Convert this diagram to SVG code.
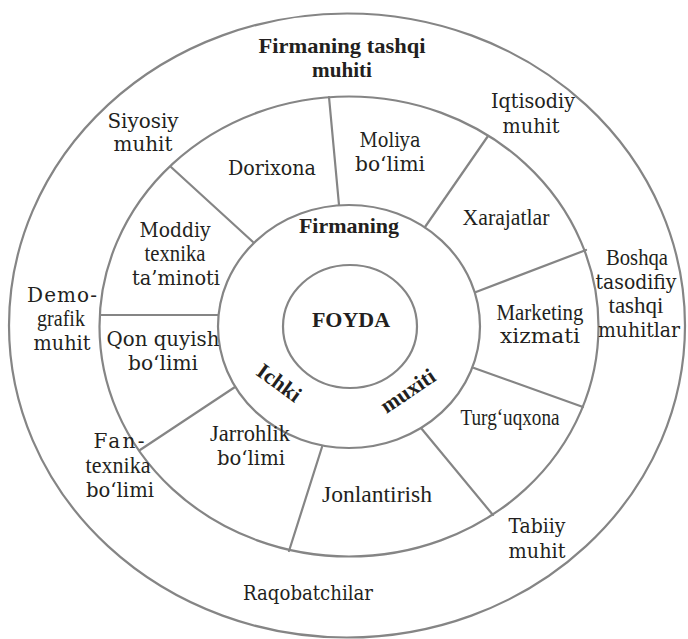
<svg xmlns="http://www.w3.org/2000/svg" width="688" height="639" viewBox="0 0 688 639">
  <style>
    .ring { fill: none; stroke: #858585; stroke-width: 2.2; }
    .div { stroke: #858585; stroke-width: 2.2; stroke-linecap: round; }
    text { fill: #231f20; text-anchor: middle; }
    .c { font-family: "DejaVu Serif", "Liberation Serif", serif; font-size: 20px; }
    .t { font-family: "Liberation Serif", "Times New Roman", serif; font-size: 22.5px; }
    .b { font-family: "Liberation Serif", "Times New Roman", serif; font-size: 22px; font-weight: bold; }
  </style>
  <rect width="688" height="639" fill="#ffffff"/>

  <!-- concentric rings -->
  <g id="rings">
    <ellipse id="outer-ring" class="ring" cx="347" cy="325.5" rx="338" ry="312"/>
    <ellipse id="middle-ring" class="ring" cx="349" cy="326.5" rx="249.5" ry="230"/>
    <ellipse id="inner-ring" class="ring" cx="349" cy="326.5" rx="131" ry="121.5"/>
    <ellipse id="core-ring" class="ring" cx="350" cy="326.5" rx="67" ry="61.5"/>
  </g>

  <!-- radial dividers between the inner and middle rings -->
  <g id="connectors">
    <line class="div" x1="339" y1="205" x2="329" y2="97"/>
    <line class="div" x1="253" y1="242" x2="171" y2="167"/>
    <line class="div" x1="218" y1="315" x2="100" y2="315"/>
    <line class="div" x1="235" y1="387" x2="140" y2="450"/>
    <line class="div" x1="322" y1="447" x2="289" y2="551"/>
    <line class="div" x1="421" y1="428" x2="493" y2="515"/>
    <line class="div" x1="474" y1="368" x2="583" y2="407"/>
    <line class="div" x1="476" y1="292" x2="586" y2="250"/>
    <line class="div" x1="425" y1="227" x2="488" y2="136"/>
  </g>

  <!-- outer ring: external environment -->
  <g id="external-title">
    <text class="b" x="342" y="53" style="font-size:21px" textLength="167" lengthAdjust="spacingAndGlyphs">Firmaning tashqi</text>
    <text class="b" x="342" y="77" style="font-size:21px" textLength="60" lengthAdjust="spacingAndGlyphs">muhiti</text>
  </g>
  <g id="siyosiy">
    <text class="c" x="143" y="128" textLength="71" lengthAdjust="spacingAndGlyphs">Siyosiy</text>
    <text class="c" x="143" y="151" textLength="59" lengthAdjust="spacingAndGlyphs">muhit</text>
  </g>
  <g id="iqtisodiy">
    <text class="c" x="533" y="108" textLength="84" lengthAdjust="spacingAndGlyphs">Iqtisodiy</text>
    <text class="c" x="531" y="133" textLength="57" lengthAdjust="spacingAndGlyphs">muhit</text>
  </g>
  <g id="boshqa">
    <text class="t" x="637" y="265" textLength="62" lengthAdjust="spacingAndGlyphs">Boshqa</text>
    <text class="c" x="636" y="289" textLength="81" lengthAdjust="spacingAndGlyphs">tasodifiy</text>
    <text class="t" x="636" y="313" textLength="55" lengthAdjust="spacingAndGlyphs">tashqi</text>
    <text class="c" x="639" y="337" textLength="82" lengthAdjust="spacingAndGlyphs">muhitlar</text>
  </g>
  <g id="demografik">
    <text class="c" x="62" y="302" textLength="70">Demo-</text>
    <text class="t" x="61" y="326" textLength="48" lengthAdjust="spacingAndGlyphs">grafik</text>
    <text class="c" x="62" y="350" textLength="57" lengthAdjust="spacingAndGlyphs">muhit</text>
  </g>
  <g id="fan-texnika">
    <text class="c" x="119" y="448" textLength="51">Fan-</text>
    <text class="t" x="118" y="473" textLength="65" lengthAdjust="spacingAndGlyphs">texnika</text>
    <text class="c" x="120" y="497" textLength="68" lengthAdjust="spacingAndGlyphs">bo‘limi</text>
  </g>
  <g id="raqobatchilar">
    <text class="c" x="308" y="600" textLength="130" lengthAdjust="spacingAndGlyphs">Raqobatchilar</text>
  </g>
  <g id="tabiiy">
    <text class="c" x="537" y="533" textLength="57" lengthAdjust="spacingAndGlyphs">Tabiiy</text>
    <text class="c" x="537" y="558" textLength="57" lengthAdjust="spacingAndGlyphs">muhit</text>
  </g>

  <!-- middle ring: departments -->
  <g id="dorixona">
    <text class="c" x="272" y="175" textLength="88" lengthAdjust="spacingAndGlyphs">Dorixona</text>
  </g>
  <g id="moliya">
    <text class="c" x="390" y="147" textLength="61" lengthAdjust="spacingAndGlyphs">Moliya</text>
    <text class="c" x="390" y="171" textLength="70" lengthAdjust="spacingAndGlyphs">bo‘limi</text>
  </g>
  <g id="xarajatlar">
    <text class="t" x="506" y="225" textLength="87" lengthAdjust="spacingAndGlyphs">Xarajatlar</text>
  </g>
  <g id="moddiy">
    <text class="c" x="175" y="237" textLength="71" lengthAdjust="spacingAndGlyphs">Moddiy</text>
    <text class="t" x="175" y="261" textLength="61" lengthAdjust="spacingAndGlyphs">texnika</text>
    <text class="c" x="176" y="285" textLength="88" lengthAdjust="spacingAndGlyphs">ta’minoti</text>
  </g>
  <g id="marketing">
    <text class="t" x="540" y="320" textLength="87" lengthAdjust="spacingAndGlyphs">Marketing</text>
    <text class="c" x="540" y="343" textLength="80" lengthAdjust="spacingAndGlyphs">xizmati</text>
  </g>
  <g id="qon-quyish">
    <text class="c" x="163" y="346" textLength="113" lengthAdjust="spacingAndGlyphs">Qon quyish</text>
    <text class="c" x="163" y="370" textLength="70" lengthAdjust="spacingAndGlyphs">bo‘limi</text>
  </g>
  <g id="turguqxona">
    <text class="t" x="510" y="425" textLength="99" lengthAdjust="spacingAndGlyphs">Turg‘uqxona</text>
  </g>
  <g id="jarrohlik">
    <text class="t" x="250" y="441" textLength="80" lengthAdjust="spacingAndGlyphs">Jarrohlik</text>
    <text class="c" x="251" y="465" textLength="68" lengthAdjust="spacingAndGlyphs">bo‘limi</text>
  </g>
  <g id="jonlantirish">
    <text class="t" x="377" y="502" textLength="110" lengthAdjust="spacingAndGlyphs">Jonlantirish</text>
  </g>

  <!-- inner ring: internal environment -->
  <g id="internal-title">
    <text class="b" x="349" y="233">Firmaning</text>
    <text class="b" transform="translate(279 383) rotate(36)" x="0" y="7">Ichki</text>
    <text class="b" transform="translate(408 391) rotate(-34)" x="0" y="7">muxiti</text>
  </g>

  <!-- core -->
  <g id="foyda">
    <text class="b" x="351" y="327">FOYDA</text>
  </g>
</svg>
